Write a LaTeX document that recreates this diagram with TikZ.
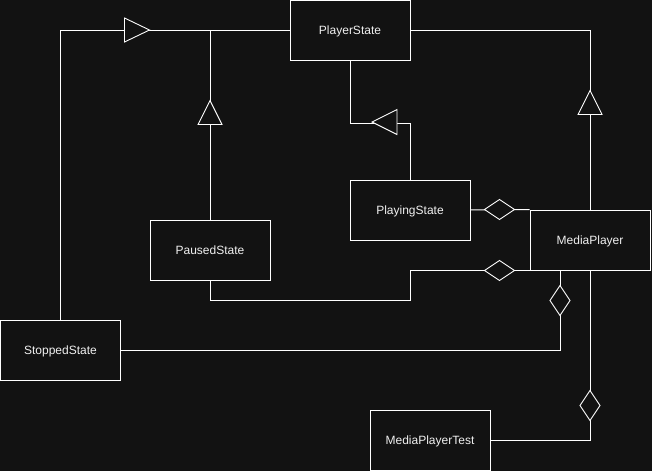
\documentclass[tikz,border=0pt]{standalone}
\usepackage{fontspec}
\setmainfont{Liberation Sans}
\usetikzlibrary{calc}
\definecolor{bg}{HTML}{121212}
\definecolor{fg}{HTML}{F0F0F0}

\begin{document}
\begin{tikzpicture}[x=1pt,y=-1pt,line width=1pt,
  box/.style={draw=white,rectangle,minimum height=60pt,minimum width=120pt,text=fg,text depth=0pt,font=\fontsize{12}{14}\selectfont},
  link/.style={draw=white},
  hollow/.style={draw=white,fill=bg,line width=0.9pt}]
\fill[bg] (0,0) rectangle (652,471);
\useasboundingbox (0,0) rectangle (652,471);

\node [box] (player) at (350,30) {PlayerState};
\node [box] (playing) at (410,210) {PlayingState};
\node [box] (media) at (590,240) {MediaPlayer};
\node [box] (paused) at (210,250) {PausedState};
\node [box] (stopped) at (60.5,350) {StoppedState};
\node [box] (mptest) at (430,440) {MediaPlayerTest};

% generalisation
\draw[link] (stopped.north) |- (player.west);
\draw[link] (paused.north) -- (paused.north |- player.west);
\draw[link] (playing.north) |- ($(player.south)+(0,62.5)$) -- (player.south);
\draw[link] (media.north) |- (player.east);

\draw[hollow] ($(player.west)-(165,12)$) -- ($(player.west)-(140,0)$) -- ($(player.west)-(165,-12)$) -- cycle;
\draw[hollow] ($(paused.north)-(12,95)$) -- ($(paused.north)-(0,119)$) -- ($(paused.north)-(-12,95)$) -- cycle;
\draw[hollow] ($(playing.north)+(-13,-70)$) -- ($(playing.north)+(-38,-57.5)$) -- ($(playing.north)+(-13,-45)$) -- cycle;
\draw[hollow] ($(media.north)-(12,95)$) -- ($(media.north)-(0,119)$) -- ($(media.north)-(-12,95)$) -- cycle;

% aggregation
\draw[link] (playing.east) -- (media.north west);
\draw[link] (paused.south) -- ++(0,20) -| (playing.south |- media.south west) -- (media.south west);
\draw[link] (stopped.east) -| ($(media.south)-(30,0)$);
\draw[link] (mptest.east) -| (media.south);

\draw[hollow] ($(media.north west)-(15,0)$) -- ($(media.north west)-(30,10)$) -- ($(media.north west)-(45,0)$) -- ($(media.north west)-(30,-10)$) -- cycle;
\draw[hollow] ($(media.south west)-(15,0)$) -- ($(media.south west)-(30,10)$) -- ($(media.south west)-(45,0)$) -- ($(media.south west)-(30,-10)$) -- cycle;
\draw[hollow] ($(media.south)+(-30,15)$) -- ($(media.south)+(-20,30)$) -- ($(media.south)+(-30,45)$) -- ($(media.south)+(-40,30)$) -- cycle;
\draw[hollow] ($(media.south)+(0,120)$) -- ($(media.south)+(10,135)$) -- ($(media.south)+(0,150)$) -- ($(media.south)+(-10,135)$) -- cycle;

\end{tikzpicture}
\end{document}
